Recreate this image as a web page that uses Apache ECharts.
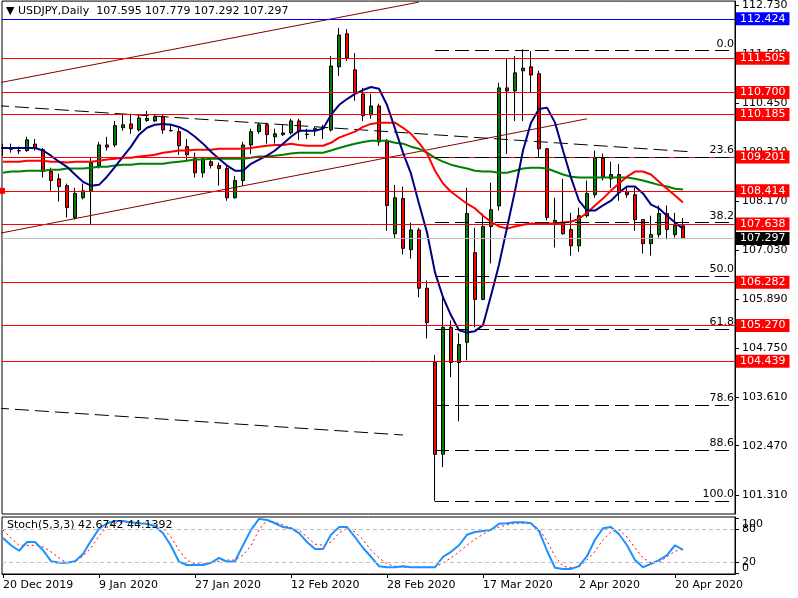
<!DOCTYPE html>
<html><head><meta charset="utf-8">
<script src="https://cdn.jsdelivr.net/npm/echarts@6/dist/echarts.min.js"></script>
<style>html,body{margin:0;padding:0;background:#fff}#c{width:798px;height:598px}</style>
</head><body><div id="c"></div>
<script>
// ---------- data ----------
const dates = ['2019-12-20','2019-12-23','2019-12-24','2019-12-26','2019-12-27','2019-12-30','2019-12-31',
'2020-01-02','2020-01-03','2020-01-06','2020-01-07','2020-01-08','2020-01-09','2020-01-10','2020-01-13','2020-01-14','2020-01-15','2020-01-16','2020-01-17','2020-01-20','2020-01-21','2020-01-22','2020-01-23','2020-01-24','2020-01-27','2020-01-28','2020-01-29','2020-01-30','2020-01-31',
'2020-02-03','2020-02-04','2020-02-05','2020-02-06','2020-02-07','2020-02-10','2020-02-11','2020-02-12','2020-02-13','2020-02-14','2020-02-17','2020-02-18','2020-02-19','2020-02-20','2020-02-21','2020-02-24','2020-02-25','2020-02-26','2020-02-27','2020-02-28',
'2020-03-02','2020-03-03','2020-03-04','2020-03-05','2020-03-06','2020-03-09','2020-03-10','2020-03-11','2020-03-12','2020-03-13','2020-03-16','2020-03-17','2020-03-18','2020-03-19','2020-03-20','2020-03-23','2020-03-24','2020-03-25','2020-03-26','2020-03-27','2020-03-30','2020-03-31',
'2020-04-01','2020-04-02','2020-04-03','2020-04-06','2020-04-07','2020-04-08','2020-04-09','2020-04-10','2020-04-13','2020-04-14','2020-04-15','2020-04-16','2020-04-17','2020-04-20','2020-04-21'];

const open  = [109.40,109.39,109.35,109.35,109.50,109.37,108.86,108.69,108.53,107.79,108.25,108.41,109.00,109.48,109.48,109.88,109.97,109.83,110.05,110.04,110.14,109.82,109.79,109.44,109.16,108.83,109.09,109.00,108.93,108.25,108.65,109.48,109.79,109.95,109.67,109.72,109.76,110.04,109.73,109.81,109.87,109.83,111.30,112.07,111.23,110.67,110.18,110.39,109.55,107.41,108.23,107.04,107.50,106.14,104.41,102.27,105.23,104.41,104.88,106.97,105.88,107.58,108.06,110.81,110.74,111.21,111.30,111.14,109.39,107.65,107.67,107.51,107.13,107.83,108.32,109.18,108.69,108.79,108.39,108.32,107.74,107.18,107.39,107.88,107.39,107.595];
const high  = [109.51,109.51,109.44,109.67,109.62,109.41,108.95,108.81,108.58,108.48,108.58,109.18,109.55,109.67,110.04,110.21,110.21,110.18,110.27,110.18,110.18,109.97,109.88,109.62,109.30,109.18,109.18,109.07,109.00,108.76,109.55,109.86,110.00,110.00,109.86,109.97,110.09,110.09,109.86,109.90,109.95,111.55,112.21,112.18,111.62,110.81,110.67,110.44,109.62,108.55,108.51,107.67,107.55,106.32,104.58,105.93,105.39,105.09,108.48,107.55,107.88,108.60,110.93,111.48,111.55,111.71,111.67,111.21,109.41,108.25,108.69,107.90,108.02,108.65,109.35,109.28,109.09,109.04,108.48,108.48,107.74,107.83,108.07,108.07,107.90,107.779];
const low   = [109.23,109.30,109.27,109.32,109.35,108.72,108.41,108.16,107.79,107.74,108.21,107.62,108.93,109.35,109.43,109.81,109.74,109.79,110.02,110.02,109.74,109.79,109.25,109.13,108.72,108.72,108.93,108.53,108.18,108.23,108.53,109.27,109.74,109.51,109.51,109.69,109.72,109.60,109.62,109.69,109.62,109.79,111.09,111.44,110.51,110.04,110.09,109.46,107.48,107.29,106.93,106.83,105.93,104.97,101.18,101.97,104.07,103.04,104.46,105.23,105.86,106.72,107.95,109.27,110.04,110.04,110.69,109.18,107.72,107.09,107.39,106.90,106.99,107.79,108.25,108.65,108.48,108.18,108.25,107.48,106.95,106.90,107.32,107.28,107.32,107.292];
const close = [109.42,109.38,109.34,109.60,109.40,108.86,108.65,108.51,108.02,108.35,108.41,109.07,109.48,109.43,109.93,109.95,109.86,110.11,110.10,110.14,109.83,109.81,109.46,109.25,108.83,109.16,109.00,108.93,108.25,108.65,109.48,109.79,109.95,109.72,109.74,109.76,110.04,109.79,109.72,109.86,109.88,111.32,112.04,111.51,110.69,110.16,110.39,109.55,108.07,108.25,107.07,107.50,106.14,105.34,102.27,105.23,104.41,104.83,107.88,105.88,107.58,107.97,110.81,110.74,111.16,111.27,111.11,109.39,107.79,107.72,107.41,107.13,107.83,108.35,109.18,108.74,108.79,108.37,108.32,107.74,107.18,107.39,107.88,107.51,107.60,107.297];

// moving averages (navy fast, red medium, green slow)
const maNavy  = [109.41,109.41,109.41,109.41,109.41,109.35,109.23,109.09,108.97,108.79,108.62,108.53,108.55,108.74,108.97,109.21,109.44,109.72,109.88,109.95,109.97,109.95,109.90,109.81,109.67,109.51,109.32,109.16,109.00,108.88,108.88,109.04,109.14,109.23,109.35,109.51,109.67,109.81,109.81,109.81,109.86,110.18,110.41,110.55,110.67,110.76,110.83,110.79,110.41,109.86,109.30,108.81,108.11,107.44,106.51,105.93,105.51,105.16,105.11,105.14,105.28,105.97,106.69,107.55,108.41,109.35,110.00,110.32,110.35,110.00,109.35,108.72,108.18,107.95,107.95,108.07,108.18,108.37,108.51,108.51,108.35,108.09,108.00,107.83,107.67,107.53];
const maRed   = [109.09,109.09,109.09,109.11,109.11,109.11,109.09,109.09,109.07,109.09,109.09,109.09,109.11,109.14,109.16,109.18,109.18,109.21,109.23,109.25,109.30,109.32,109.35,109.35,109.37,109.37,109.37,109.39,109.39,109.39,109.39,109.41,109.44,109.46,109.48,109.48,109.51,109.48,109.46,109.46,109.46,109.53,109.65,109.72,109.79,109.90,109.97,110.00,110.00,110.00,109.88,109.74,109.53,109.28,108.88,108.58,108.39,108.25,108.11,108.00,107.83,107.69,107.58,107.53,107.58,107.62,107.65,107.65,107.65,107.65,107.67,107.69,107.76,107.90,108.07,108.23,108.42,108.58,108.74,108.86,108.86,108.79,108.62,108.46,108.30,108.14];
const maGreen = [108.83,108.86,108.86,108.88,108.88,108.88,108.90,108.90,108.93,108.93,108.93,108.95,108.97,108.97,109.00,109.02,109.02,109.04,109.04,109.04,109.04,109.07,109.09,109.11,109.14,109.14,109.16,109.16,109.16,109.16,109.16,109.18,109.21,109.21,109.23,109.25,109.28,109.30,109.30,109.30,109.30,109.35,109.41,109.46,109.51,109.55,109.58,109.58,109.58,109.53,109.51,109.44,109.39,109.30,109.18,109.09,109.02,108.97,108.93,108.88,108.86,108.86,108.83,108.83,108.88,108.93,108.95,108.95,108.93,108.86,108.79,108.74,108.72,108.72,108.72,108.72,108.72,108.72,108.72,108.69,108.65,108.60,108.55,108.51,108.46,108.44];

// Stochastic(5,3,3)
const stochK = [64,51,41,57,57,42,22,19,19,22,35,59,81,91,95,95,93,91,90,86,73,50,21,15,15,15,19,28,21,22,51,79,99,97,91,84,82,73,57,44,44,70,84,84,66,46,30,13,11,11,13,11,11,11,11,30,39,51,70,75,77,79,90,91,93,93,91,77,41,10,8,8,13,31,61,82,84,71,51,24,11,17,24,33,51,42.6742];
const stochD = [79,64,51,51,51,48,39,28,19,21,31,46,68,84,91,93,93,91,90,86,82,66,42,24,17,17,19,22,24,24,33,50,79,97,93,88,82,79,66,53,51,57,73,82,75,61,42,28,17,13,11,11,11,11,11,19,28,39,51,62,71,79,84,88,91,91,91,80,59,31,13,10,11,24,40,61,75,79,66,46,28,19,20,30,40,44.1392];
const stochLevels = [20, 80];

// horizontal price levels
const redLevels = [111.505, 110.700, 110.185, 109.201, 108.414, 107.638, 106.282, 105.270, 104.439];
const blueLevel = 112.424;
const bidLevel = 107.297;

// Fibonacci retracement (from 9 Mar 2020 low to March high)
const fibStart = '2020-03-09';
const fibRatios = ['0.0','23.6','38.2','50.0','61.8','78.6','88.6','100.0'];
const fibPrices = [111.68, 109.20, 107.67, 106.43, 105.19, 103.42, 102.37, 101.18];

// trend lines as [bar index, price] anchor pairs
const trendBrownUpper = [[-1, 110.91], [52, 112.81]];
const trendBrownLower = [[-1, 107.40], [73, 110.09]];
const trendDashUpper  = [[-1, 110.40], [86, 109.32]];
const trendDashLower  = [[-1, 103.35], [50, 102.72]];

// axis ticks
const priceTicks = [101.310, 102.470, 103.610, 104.750, 105.890, 107.030, 108.170, 109.310, 110.450, 111.590, 112.730];
const stochTicksMid = [20, 80];
const stochTickTop = [100];
const stochTickBottom = [0];
const dateTickDates  = ['2019-12-20','2020-01-09','2020-01-27','2020-02-12','2020-02-28','2020-03-17','2020-04-02','2020-04-20'];
const dateTickLabels = ['20 Dec 2019','9 Jan 2020','27 Jan 2020','12 Feb 2020','28 Feb 2020','17 Mar 2020','2 Apr 2020','20 Apr 2020'];

// ---------- chart ----------
const FONT = 'DejaVu Sans';
const N = dates.length;
const X_MIN = -0.125, X_MAX = 91.5;
const P_MIN = 100.879, P_MAX = 112.833;
const S_MIN = -1.3, S_MAX = 102.4;
const tickIdx = dateTickDates.map(d => dates.indexOf(d));
const fibIdx = dates.indexOf(fibStart);

const chart = echarts.init(document.getElementById('c'), null, {renderer: 'canvas'});

const candleData = dates.map((d, i) => [i, open[i], close[i], low[i], high[i]]);
const pairs = arr => arr.map((v, i) => [i, v]);

const priceLabel = (bg, v) => ({
  show: true, position: 'end', distance: 1, color: '#fff', backgroundColor: bg,
  fontFamily: FONT, fontSize: 11, padding: [1, 4, 0, 4], lineHeight: 12,
  formatter: v.toFixed(3)
});

const levelLines = redLevels.map(v => {
  const item = {yAxis: v, lineStyle: {color: '#ff0000', width: 1, type: 'solid'}, label: priceLabel('#ff0000', v)};
  if (Math.abs(v - 108.414) < 1e-6) { item.symbol = ['emptyRect', 'emptyRect']; item.symbolSize = 6; }
  return item;
});
levelLines.push({yAxis: blueLevel, lineStyle: {color: '#0000ff', width: 1, type: 'solid'}, label: priceLabel('#0000ff', blueLevel)});

const fibLines = fibPrices.map((p, i) => [
  {coord: [fibIdx, p], label: {show: true, position: 'insideEndTop', distance: 1, formatter: fibRatios[i],
     color: '#000', fontFamily: FONT, fontSize: 11}},
  {coord: [X_MAX, p]}
]);

const trendSeries = (data, color, type) => ({
  type: 'line', xAxisIndex: 0, yAxisIndex: 0, data, showSymbol: false, symbol: 'none', silent: true, z: 3,
  lineStyle: {color, width: 1, type}, clip: true
});

const stochAxis = (ticks, vAlign, showLine) => ({
  type: 'value', gridIndex: 1, position: 'right', min: S_MIN, max: S_MAX,
  splitLine: {show: false},
  axisLine: {show: showLine, onZero: false, lineStyle: {color: '#000'}},
  axisTick: {show: true, customValues: ticks, length: 4, lineStyle: {color: '#000'}},
  axisLabel: {show: true, customValues: ticks, margin: 7, color: '#000', fontFamily: FONT, fontSize: 11,
    verticalAlign: vAlign, formatter: v => String(Math.round(v))}
});

const option = {
  animation: false,
  backgroundColor: '#ffffff',
  textStyle: {fontFamily: FONT},
  title: [
    {text: '\u25BC USDJPY,Daily  ' + [open[N-1], high[N-1], low[N-1], close[N-1]].map(v => v.toFixed(3)).join(' '),
     left: 6, top: 6, padding: 0, textStyle: {fontFamily: FONT, fontSize: 11, fontWeight: 'normal', color: '#000'}},
    {text: 'Stoch(5,3,3) ' + stochK[N-1].toFixed(4) + ' ' + stochD[N-1].toFixed(4),
     left: 7, top: 520, padding: 0, textStyle: {fontFamily: FONT, fontSize: 11, fontWeight: 'normal', color: '#000'}}
  ],
  grid: [
    {left: 2, right: 63, top: 0, height: 514, show: true, borderColor: '#000', borderWidth: 1, backgroundColor: '#fff'},
    {left: 2, right: 63, top: 517, height: 57, show: true, borderColor: '#000', borderWidth: 1, backgroundColor: '#fff'}
  ],
  xAxis: [
    {type: 'value', gridIndex: 0, min: X_MIN, max: X_MAX, show: false, splitLine: {show: false}},
    {type: 'value', gridIndex: 1, min: X_MIN, max: X_MAX, splitLine: {show: false},
     axisLine: {show: true, onZero: false, lineStyle: {color: '#000'}},
     axisTick: {show: true, customValues: tickIdx, length: 4, lineStyle: {color: '#000'}},
     axisLabel: {show: true, customValues: tickIdx, align: 'left', margin: 6, color: '#000', fontFamily: FONT, fontSize: 11,
       formatter: v => dateTickLabels[tickIdx.indexOf(Math.round(v))] || ''}}
  ],
  yAxis: [
    {type: 'value', gridIndex: 0, position: 'right', min: P_MIN, max: P_MAX,
     splitLine: {show: false},
     axisLine: {show: true, onZero: false, lineStyle: {color: '#000'}},
     axisTick: {show: true, customValues: priceTicks, length: 4, lineStyle: {color: '#000'}},
     axisLabel: {show: true, customValues: priceTicks, margin: 7, color: '#000', fontFamily: FONT, fontSize: 11,
       formatter: v => Number(v).toFixed(3)}},
    stochAxis(stochTicksMid, 'middle', true),
    stochAxis(stochTickTop, 'top', false),
    stochAxis(stochTickBottom, 'bottom', false)
  ],
  series: [
    // bid line (behind candles)
    {type: 'line', xAxisIndex: 0, yAxisIndex: 0, data: [], silent: true, z: 1,
     markLine: {silent: true, symbol: 'none', animation: false,
       data: [{yAxis: bidLevel, lineStyle: {color: '#c0c0c0', width: 1, type: 'solid'}, label: priceLabel('#000000', bidLevel)}]}},
    {type: 'candlestick', xAxisIndex: 0, yAxisIndex: 0, data: candleData, barWidth: 4, z: 2,
     encode: {x: 0, y: [1, 2, 3, 4]},
     itemStyle: {color: '#008000', color0: '#ff0000', borderColor: '#000', borderColor0: '#000', borderColorDoji: '#000', borderWidth: 1}},
    trendSeries(trendBrownUpper, '#800000', 'solid'),
    trendSeries(trendBrownLower, '#800000', 'solid'),
    trendSeries(trendDashUpper, '#000000', [14, 6]),
    trendSeries(trendDashLower, '#000000', [14, 6]),
    // horizontal levels + fibonacci
    {type: 'line', xAxisIndex: 0, yAxisIndex: 0, data: [], silent: true, z: 3,
     markLine: {silent: true, symbol: 'none', animation: false, data: levelLines}},
    {type: 'line', xAxisIndex: 0, yAxisIndex: 0, data: [], silent: true, z: 3,
     markLine: {silent: true, symbol: 'none', animation: false,
       lineStyle: {color: '#000', width: 1, type: [14, 6]}, data: fibLines}},
    // moving averages
    {type: 'line', xAxisIndex: 0, yAxisIndex: 0, data: pairs(maGreen), showSymbol: false, symbol: 'none', z: 4,
     lineStyle: {color: '#008000', width: 2}},
    {type: 'line', xAxisIndex: 0, yAxisIndex: 0, data: pairs(maRed), showSymbol: false, symbol: 'none', z: 4,
     lineStyle: {color: '#ff0000', width: 2}},
    {type: 'line', xAxisIndex: 0, yAxisIndex: 0, data: pairs(maNavy), showSymbol: false, symbol: 'none', z: 4,
     lineStyle: {color: '#000080', width: 2}},
    // stochastic
    {type: 'line', xAxisIndex: 1, yAxisIndex: 1, data: [], silent: true, z: 1,
     markLine: {silent: true, symbol: 'none', animation: false, label: {show: false},
       lineStyle: {color: '#c0c0c0', width: 1, type: [4, 3]},
       data: stochLevels.map(v => ({yAxis: v}))}},
    {type: 'line', xAxisIndex: 1, yAxisIndex: 1, data: pairs(stochD), showSymbol: false, symbol: 'none', z: 3,
     lineStyle: {color: '#ff0000', width: 1, type: [2, 3]}},
    {type: 'line', xAxisIndex: 1, yAxisIndex: 1, data: pairs(stochK), showSymbol: false, symbol: 'none', z: 4,
     lineStyle: {color: '#1e90ff', width: 2}}
  ]
};
chart.setOption(option);
</script>
</body></html>
